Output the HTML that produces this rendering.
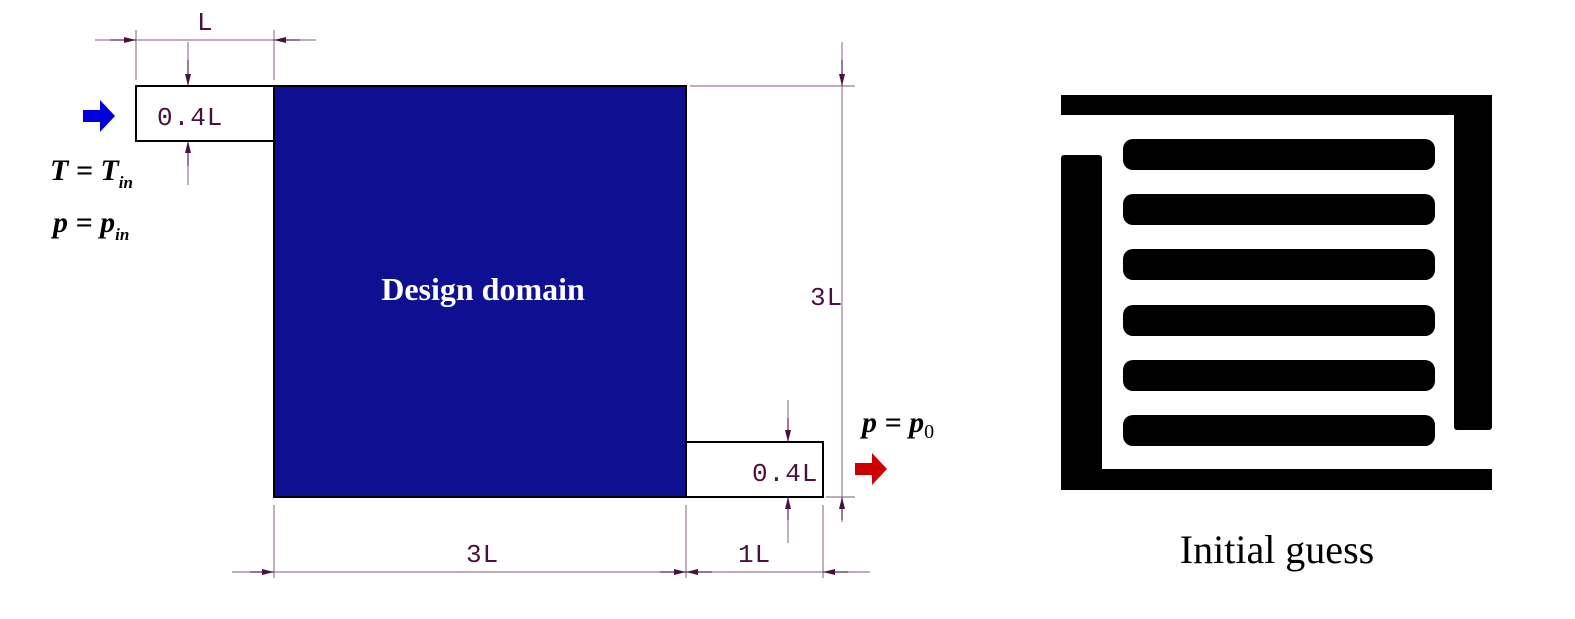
<!DOCTYPE html><html><head><style>body{margin:0;background:#fff}svg{display:block}</style></head><body>
<svg width="1575" height="619" xmlns="http://www.w3.org/2000/svg">
<defs><marker id="a" markerWidth="12" markerHeight="8" refX="12" refY="4" orient="auto" markerUnits="userSpaceOnUse"><path d="M0,1 L12,4 L0,7z" fill="#4a1040"/></marker></defs>
<g stroke="#9a7a9a" stroke-width="1.2" fill="none">
<line x1="95" y1="40" x2="316" y2="40"/>
<line x1="136" y1="30" x2="136" y2="80"/><line x1="274" y1="30" x2="274" y2="80"/>
<line x1="188" y1="42" x2="188" y2="185"/>
<line x1="690" y1="86" x2="855" y2="86"/>
<line x1="842" y1="42" x2="842" y2="522"/>
<line x1="826" y1="497" x2="855" y2="497"/>
<line x1="788" y1="400" x2="788" y2="543"/>
<line x1="274" y1="505" x2="274" y2="578"/><line x1="686" y1="505" x2="686" y2="578"/><line x1="823" y1="505" x2="823" y2="578"/>
<line x1="232" y1="572" x2="870" y2="572"/>
</g>
<g stroke="#4a1040" stroke-width="1" marker-end="url(#a)">
<line x1="110" y1="40" x2="136" y2="40"/><line x1="300" y1="40" x2="274" y2="40"/>
<line x1="188" y1="60" x2="188" y2="86"/><line x1="188" y1="166" x2="188" y2="141"/>
<line x1="842" y1="60" x2="842" y2="86"/><line x1="842" y1="520" x2="842" y2="497"/>
<line x1="788" y1="418" x2="788" y2="442"/><line x1="788" y1="520" x2="788" y2="497"/>
<line x1="250" y1="572" x2="274" y2="572"/><line x1="660" y1="572" x2="686" y2="572"/><line x1="712" y1="572" x2="686" y2="572"/><line x1="848" y1="572" x2="823" y2="572"/>
</g>
<rect x="136" y="86" width="138" height="55" fill="#fff" stroke="#000" stroke-width="2"/>
<rect x="686" y="442" width="137" height="55" fill="#fff" stroke="#000" stroke-width="2"/>
<rect x="274" y="86" width="412" height="411" fill="#0f0f91" stroke="#000" stroke-width="2"/>
<g font-family="Liberation Mono,monospace" font-size="26" fill="#4a1040" letter-spacing="1">
<text x="157" y="125">0.4L</text><text x="752" y="481">0.4L</text>
<text x="197" y="30">L</text><text x="810" y="305">3L</text><text x="466" y="562">3L</text><text x="738" y="562">1L</text>
</g>
<text x="483" y="300" font-family="Liberation Serif,serif" font-weight="bold" font-size="32" fill="#fff" text-anchor="middle">Design domain</text>
<g font-family="Liberation Serif,serif" font-weight="bold" font-style="italic" font-size="30" fill="#000">
<text x="50" y="180">T = T<tspan font-size="17" dy="8">in</tspan></text>
<text x="53" y="232">p = p<tspan font-size="17" dy="8">in</tspan></text>
<text x="862" y="432">p = p<tspan font-size="20" dy="6" font-style="normal" font-weight="normal">0</tspan></text>
</g>
<path d="M83,110 h17 v-10 l15,16 l-15,16 v-10 h-17z" fill="#0000dd"/>
<path d="M855,463 h17 v-10 l15,16 l-15,16 v-10 h-17z" fill="#cc0000"/>
<g fill="#000">
<rect x="1061" y="95" width="431" height="20"/>
<rect x="1454" y="95" width="38" height="335" rx="3"/>
<rect x="1061" y="155" width="41" height="335" rx="3"/>
<rect x="1061" y="469" width="431" height="21"/>
<rect x="1123" y="139" width="312" height="31" rx="10"/><rect x="1123" y="194" width="312" height="31" rx="10"/><rect x="1123" y="249" width="312" height="31" rx="10"/><rect x="1123" y="305" width="312" height="31" rx="10"/><rect x="1123" y="360" width="312" height="31" rx="10"/><rect x="1123" y="415" width="312" height="31" rx="10"/>
</g>
<text x="1277" y="563" font-family="Liberation Serif,serif" font-size="40" text-anchor="middle">Initial guess</text>
</svg></body></html>
